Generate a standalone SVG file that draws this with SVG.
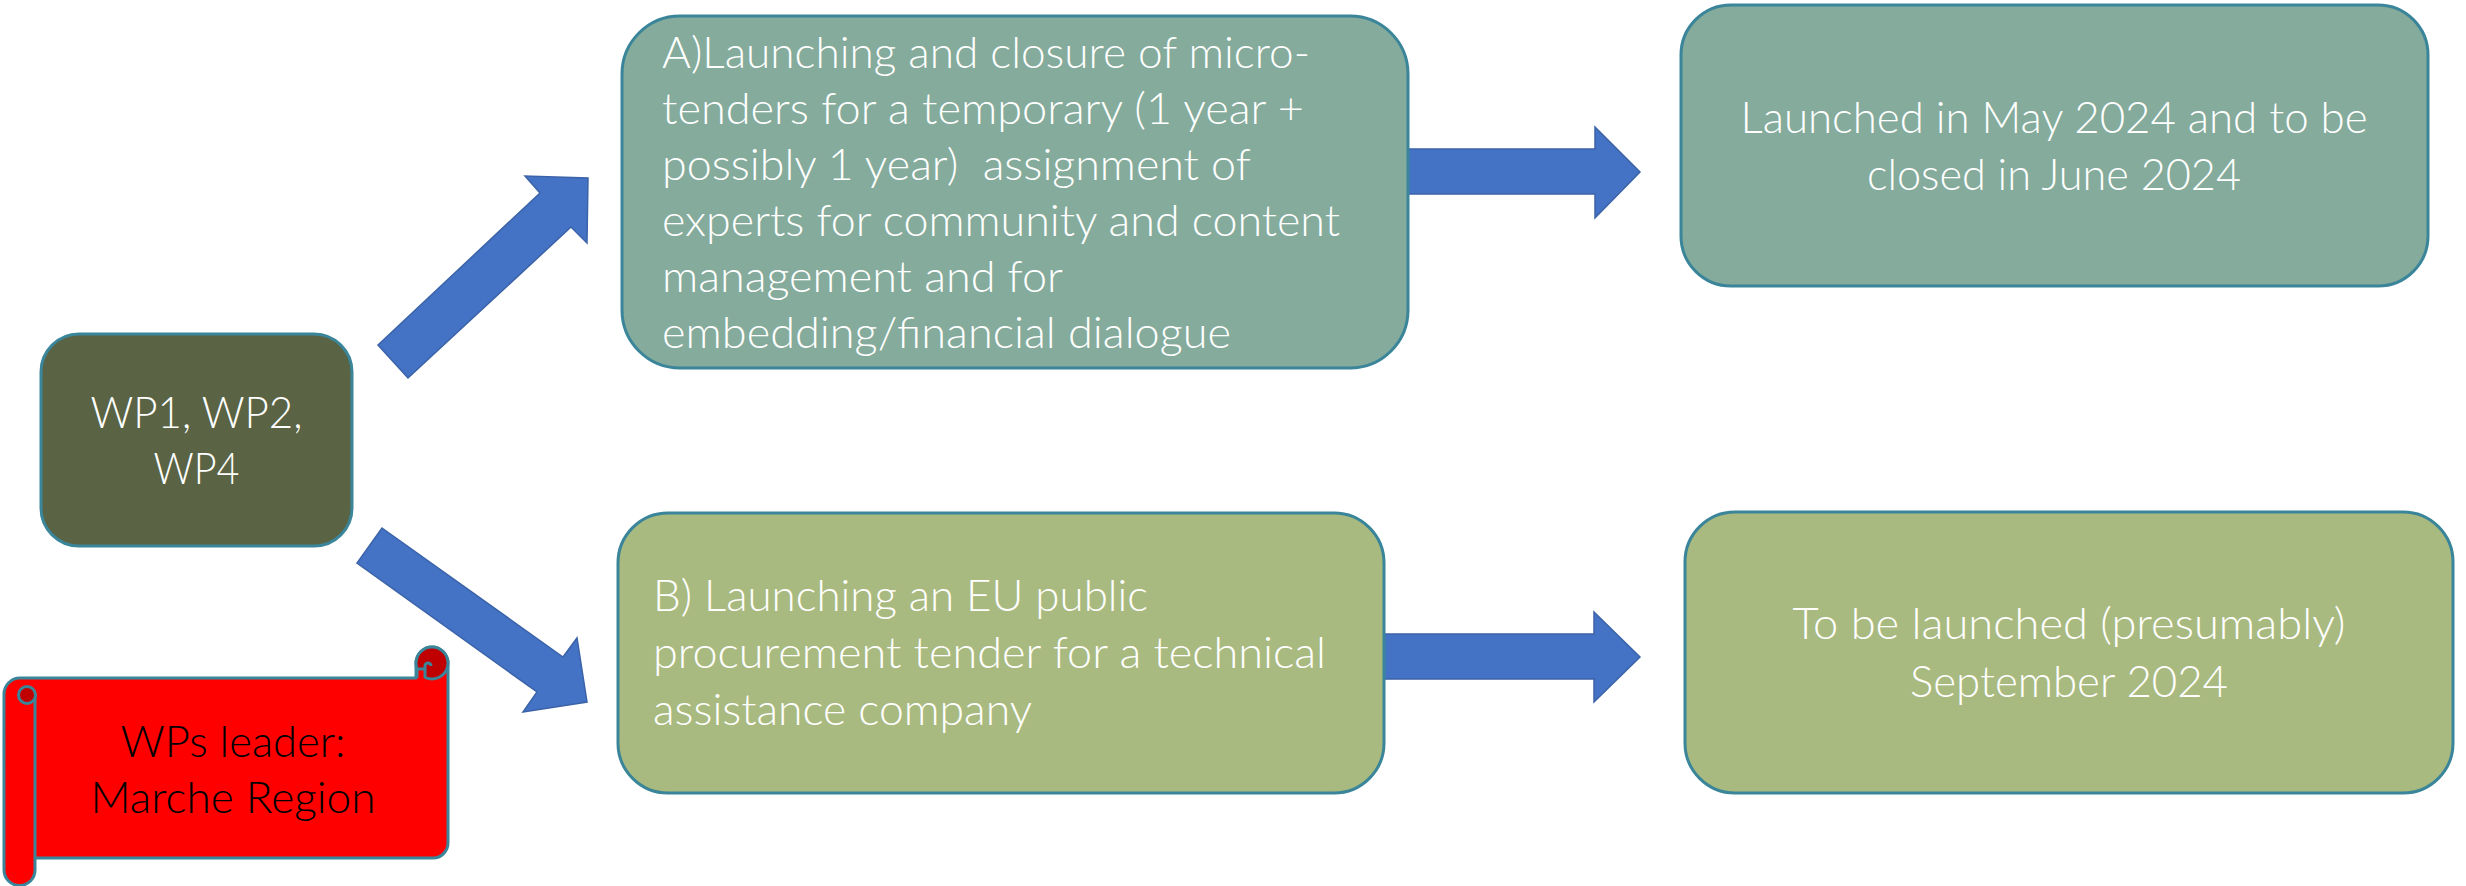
<svg xmlns="http://www.w3.org/2000/svg" width="2466" height="886" viewBox="0 0 2466 886">
<style>
.box{stroke:#3a8599;stroke-width:3}
.teal{fill:#84ab9b}
.olive{fill:#a9ba80}
.t{font-family:Lato,"Open Sans","Liberation Sans",sans-serif;font-weight:300;font-size:43px;fill:#ffffff}
.k{fill:#000000}
.c{text-anchor:middle}
.arr{fill:#4472c4;stroke:#3b63a8;stroke-width:1.5}
.scr{stroke:#3a8599;stroke-width:3;stroke-linejoin:round}
</style>
<rect width="2466" height="886" fill="#ffffff"/>
<g id="connectors">
<polygon class="arr" points="378,345 540,193 525,176 588,178 587,243 571,227 408,378"/>
<polygon class="arr" points="382,528 563,657 577,638 587,702 523,712 537,692 357,563"/>
<polygon class="arr" points="1408,149 1595,149 1595,127 1640,172 1595,218 1595,194 1408,194"/>
<polygon class="arr" points="1383,634 1594,634 1594,612 1640,657 1594,702 1594,679 1383,679"/>
</g>
<g id="node-wp">
<rect class="box" x="41" y="334" width="311" height="212" rx="38" fill="#5a6344"/>
<text class="t c" x="196.5" y="428" textLength="212" lengthAdjust="spacingAndGlyphs">WP1, WP2,</text>
<text class="t c" x="196.5" y="484" textLength="86" lengthAdjust="spacingAndGlyphs">WP4</text>
</g>
<g id="node-a">
<rect class="box teal" x="622" y="16" width="786" height="352" rx="58"/>
<text class="t" x="662" y="68" textLength="648" lengthAdjust="spacingAndGlyphs">A)Launching and closure of micro-</text>
<text class="t" x="662" y="124" textLength="642" lengthAdjust="spacingAndGlyphs">tenders for a temporary (1 year +</text>
<text class="t" x="662" y="180" textLength="589" lengthAdjust="spacingAndGlyphs" xml:space="preserve">possibly 1 year)  assignment of</text>
<text class="t" x="662" y="236" textLength="678" lengthAdjust="spacingAndGlyphs">experts for community and content</text>
<text class="t" x="662" y="292" textLength="401" lengthAdjust="spacingAndGlyphs">management and for</text>
<text class="t" x="662" y="348" textLength="569" lengthAdjust="spacingAndGlyphs">embedding/financial dialogue</text>
</g>
<g id="node-a-status">
<rect class="box teal" x="1681" y="5" width="747" height="281" rx="50"/>
<text class="t c" x="2054" y="133" textLength="627" lengthAdjust="spacingAndGlyphs">Launched in May 2024 and to be</text>
<text class="t c" x="2054" y="190" textLength="374" lengthAdjust="spacingAndGlyphs">closed in June 2024</text>
</g>
<g id="node-b">
<rect class="box olive" x="618" y="513" width="766" height="280" rx="50"/>
<text class="t" x="653" y="611" textLength="495" lengthAdjust="spacingAndGlyphs">B) Launching an EU public</text>
<text class="t" x="653" y="668" textLength="673" lengthAdjust="spacingAndGlyphs">procurement tender for a technical</text>
<text class="t" x="653" y="725" textLength="379" lengthAdjust="spacingAndGlyphs">assistance company</text>
</g>
<g id="node-b-status">
<rect class="box olive" x="1685" y="512" width="768" height="281" rx="50"/>
<text class="t c" x="2069" y="639" textLength="553" lengthAdjust="spacingAndGlyphs">To be launched (presumably)</text>
<text class="t c" x="2069" y="697" textLength="318" lengthAdjust="spacingAndGlyphs">September 2024</text>
</g>
<g id="node-leader">
<path class="scr" fill="#ff0000" d="M4,694 A16,16 0 0 1 20,678 L416,678 L416,663 A16,16 0 0 1 448,663 L448,843 A15,15 0 0 1 433,858 L35,858 L35,870 A15.5,15.5 0 0 1 4,870 Z"/>
<line class="scr" x1="35" y1="694" x2="35" y2="858"/>
<circle class="scr" cx="432" cy="663" r="16" fill="#c00000"/>
<path class="scr" fill="#ff0000" d="M417,678 L417,669 L425,669 L425,678"/>
<path class="scr" fill="none" stroke-width="2" d="M425,670 L425,666 A3,3 0 0 1 431,666"/>
<circle class="scr" cx="27" cy="695" r="8.5" fill="#c00000"/>
<text class="t c k" x="233" y="757" textLength="225" lengthAdjust="spacingAndGlyphs">WPs leader:</text>
<text class="t c k" x="233" y="813" textLength="285" lengthAdjust="spacingAndGlyphs">Marche Region</text>
</g>
</svg>
